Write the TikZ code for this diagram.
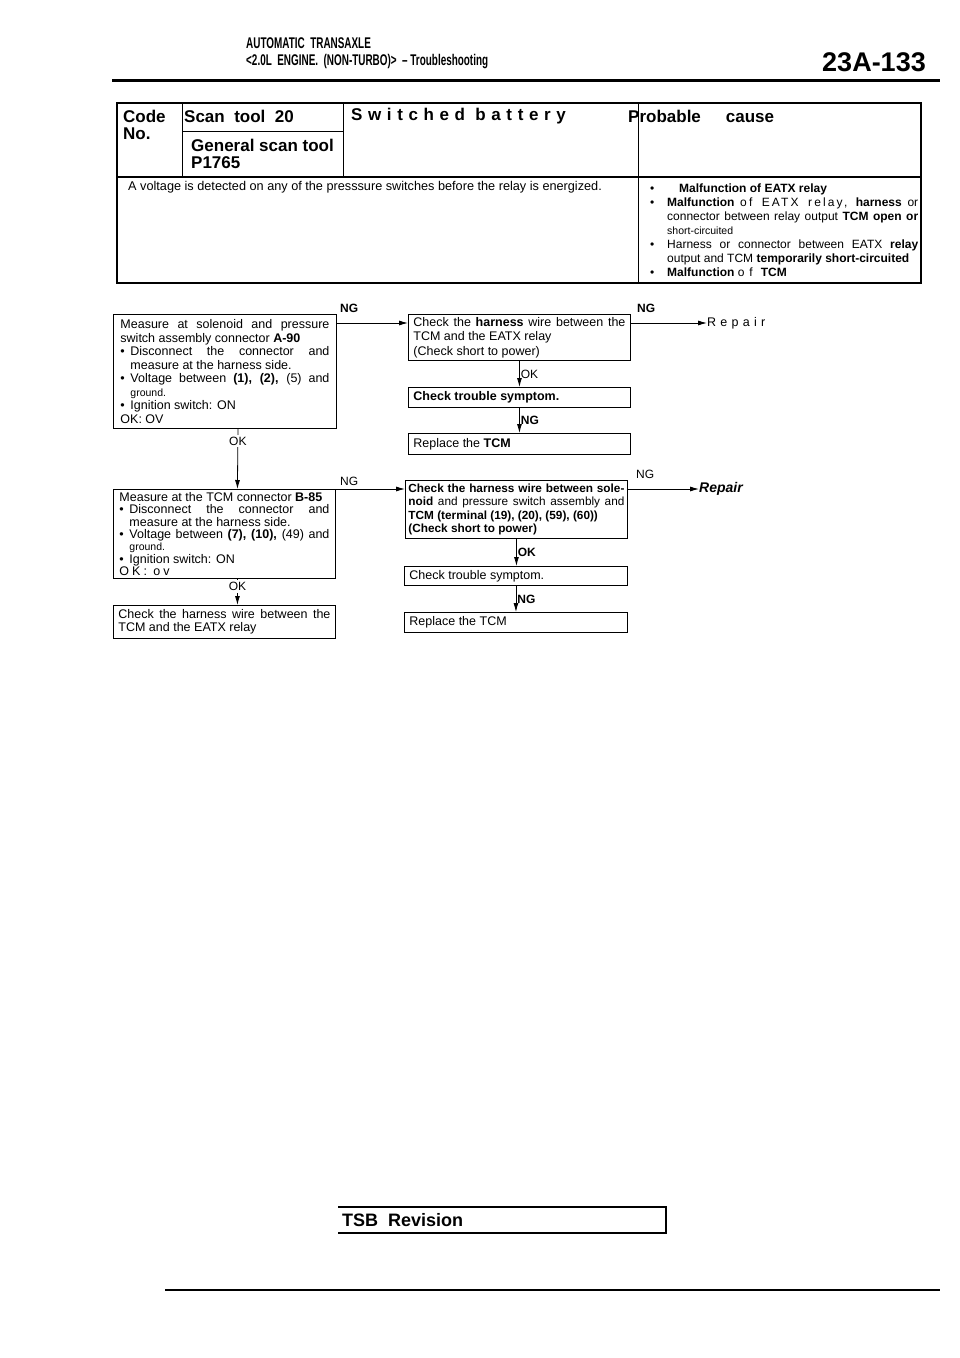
\documentclass[tikz,border=0pt]{standalone}
\usepackage{fontspec}
\setmainfont{Liberation Sans}
\newfontfamily\narrowfont[FakeStretch=0.64]{Liberation Sans}
\usetikzlibrary{arrows.meta}

\newcommand\tracked[2][30]{{\addfontfeature{LetterSpace=#1}#2}}
\newcommand\bul[1][10pt]{\par\hangindent=#1\hangafter=1\noindent\hbox to #1{\textbullet\hfil}}

\begin{document}
\begin{tikzpicture}[x=1pt, y=-1pt,
  stepbox/.style={draw, line width=0.9pt, anchor=north west, inner xsep=5pt, inner ysep=2pt,
    align=justify, font=\fontsize{12.5}{13.5}\selectfont},
  flow/.style={-{Latex[length=9pt,width=5pt]}, line width=0.8pt},
  tag/.style={inner sep=1pt, font=\bfseries\fontsize{12}{13}\selectfont},
  okay/.style={inner sep=1pt, font=\fontsize{12}{13}\selectfont},
  heading/.style={anchor=west, inner sep=0pt, font=\bfseries\fontsize{17}{19}\selectfont},
  title/.style={anchor=west, inner sep=0pt, font=\narrowfont\bfseries\fontsize{15.5}{17}\selectfont}]

  \useasboundingbox (0,0) rectangle (960,1358);

  % page header
  \node[title] (sect) at (246,43) {AUTOMATIC\ \ TRANSAXLE};
  \node[title] (sub) at (246,62) {<2.0L\ \ ENGINE.\ \ (NON-TURBO)>\ \ –\ Troubleshooting};
  \node[anchor=east, inner sep=0pt, font=\bfseries\fontsize{27}{28}\selectfont] (page) at (926,62) {23A-133};
  \draw[line width=3pt] (112,80) -- (940,80);

  % code table
  \draw[line width=1.2pt] (117,103) rectangle (921,283);
  \draw[line width=1.2pt] (117,177) -- (921,177);
  \draw[line width=1pt] (182,103) -- (182,177);
  \draw[line width=1pt] (182,131) -- (343,131);
  \draw[line width=1pt] (343,103) -- (343,177);
  \draw[line width=1pt] (638,103) -- (638,283);

  \node[heading] (code) at (123,116) {Code};
  \node[heading] (no) at (123,134) {No.};
  \node[heading] (scan) at (184,116) {Scan\ \ tool\ \ 20};
  \node[heading] (gen) at (191,145) {General scan tool};
  \node[heading] (num) at (191,163) {P1765};
  \node[heading] (name) at (351,116) {\tracked[33]{Switched battery}};
  \node[heading] (cause) at (628,116) {Probable\hspace{25pt}cause};

  \node[anchor=west, inner sep=0pt, font=\fontsize{12.7}{14}\selectfont] (what) at (128,187)
    {A voltage is detected on any of the presssure switches before the relay is energized.};

  \node[anchor=north west, inner sep=0pt, text width=268pt, align=justify,
        font=\fontsize{12}{14}\selectfont] (list) at (650,178) {%
    \bul[17pt]\hspace{12pt}\textbf{Malfunction of EATX relay}
    \bul[17pt]\textbf{Malfunction} \tracked[18]{of EATX relay,} \textbf{harness} or\linebreak
      connector between relay output \textbf{TCM open or}\linebreak
      {\fontsize{10.5}{13}\selectfont short-circuited}
    \bul[17pt]Harness or connector between EATX \textbf{relay}\linebreak
      output and TCM \textbf{temporarily short-circuited}
    \bul[17pt]\textbf{Malfunction} \tracked[40]{of} \textbf{TCM}};

  % first check
  \node[stepbox, text width=209pt, inner xsep=7pt, minimum height=114pt] (volt1) at (113,314) {%
    Measure at solenoid and pressure\linebreak switch assembly connector \textbf{A-90}
    \bul Disconnect the connector and\linebreak measure at the harness side.
    \bul Voltage between \textbf{(1), (2),} (5) and\linebreak {\fontsize{10.5}{13.5}\selectfont ground.}
    \bul Ignition switch: ON\\OK: OV};

  \node[stepbox, text width=212pt, minimum height=46pt, font=\fontsize{12.5}{14.5}\selectfont] (wire1) at (408,314) {%
    Check the \textbf{harness} wire between the\linebreak TCM and the EATX relay\\(Check short to power)};
  \node[stepbox, text width=212pt, minimum height=20pt, font=\bfseries\fontsize{12.5}{13}\selectfont] (sym1) at (408,387) {%
    Check trouble symptom.};
  \node[stepbox, text width=212pt, minimum height=21pt] (tcm1) at (408,433) {%
    Replace the \textbf{TCM}};
  \node[anchor=west, inner sep=0pt, font=\fontsize{12.5}{13}\selectfont] (fix1) at (707,323) {\tracked[34]{Repair}};

  \draw[flow] ([yshift=-9pt]volt1.north east) -- ([yshift=-9pt]wire1.north west);
  \node[tag, anchor=south west] (ng1) at ([xshift=2pt]volt1.north east) {NG};
  \draw[flow] ([yshift=-9pt]wire1.north east) -- (fix1.west);
  \node[tag, anchor=south west] (ng2) at ([xshift=5pt]wire1.north east) {NG};
  \draw[flow] (wire1.south) -- (sym1.north) node[okay, midway, right] {OK};
  \draw[flow] (sym1.south) -- (tcm1.north) node[tag, midway, right] {NG};

  % second check
  \node[stepbox, text width=210pt, inner xsep=6pt, minimum height=89pt, font=\fontsize{12.5}{12.3}\selectfont] (volt2) at (113,489) {%
    Measure at the TCM connector \textbf{B-85}
    \bul Disconnect the connector and\linebreak measure at the harness side.
    \bul Voltage between \textbf{(7), (10),} (49) and\linebreak {\fontsize{10.5}{12.3}\selectfont ground.}
    \bul Ignition switch: ON\\\tracked[24]{OK: ov}};
  \node[stepbox, text width=212pt, minimum height=33pt, font=\fontsize{12.5}{13}\selectfont] (wire3) at (113,605) {%
    Check the harness wire between the\linebreak TCM and the EATX relay};

  \draw[flow] ([xshift=13pt]volt1.south) -- ([xshift=13pt]volt2.north)
    node[okay, pos=0.2, fill=white, inner sep=2pt] {OK};
  \draw[flow] ([xshift=13pt]volt2.south) -- ([xshift=13pt]wire3.north)
    node[okay, pos=0.3, fill=white, inner sep=2pt] {OK};

  \node[stepbox, text width=216pt, inner xsep=3pt, minimum height=58pt, font=\fontsize{11.8}{13.3}\selectfont] (wire2) at (405,480) {%
    \textbf{Check the harness wire between sole-\linebreak noid} and pressure switch assembly and\linebreak
    \textbf{TCM (terminal (19), (20), (59), (60))\\(Check short to power)}};
  \node[stepbox, text width=213pt, minimum height=19pt] (sym2) at (404,566) {%
    Check trouble symptom.};
  \node[stepbox, text width=213pt, minimum height=20pt] (tcm2) at (404,612) {%
    Replace the TCM};
  \node[anchor=west, inner sep=0pt, font=\bfseries\itshape\fontsize{14}{15}\selectfont] (fix2) at (699,489) {Repair};

  \draw[flow] (volt2.north east) -- (volt2.north east -| wire2.west);
  \node[okay, anchor=south west] (ng3) at ([xshift=3pt,yshift=2pt]volt2.north east) {NG};
  \draw[flow] ([yshift=-9pt]wire2.north east) -- (fix2.west);
  \node[okay, anchor=south west] (ng4) at ([xshift=7pt]wire2.north east) {NG};
  \draw[flow] (wire2.south) -- (wire2.south |- sym2.north) node[tag, midway, right] {OK};
  \draw[flow] (sym2.south) -- (sym2.south |- tcm2.north) node[tag, midway, right] {NG};

  % page footer
  \draw[line width=1.2pt] (338,1207) -- (666,1207) -- (666,1233) -- (338,1233);
  \node[anchor=west, inner sep=0pt, font=\bfseries\fontsize{18}{20}\selectfont] (tsb) at (342,1220) {TSB\ \ Revision};
  \draw[line width=2pt] (165,1290) -- (940,1290);

\end{tikzpicture}
\end{document}
